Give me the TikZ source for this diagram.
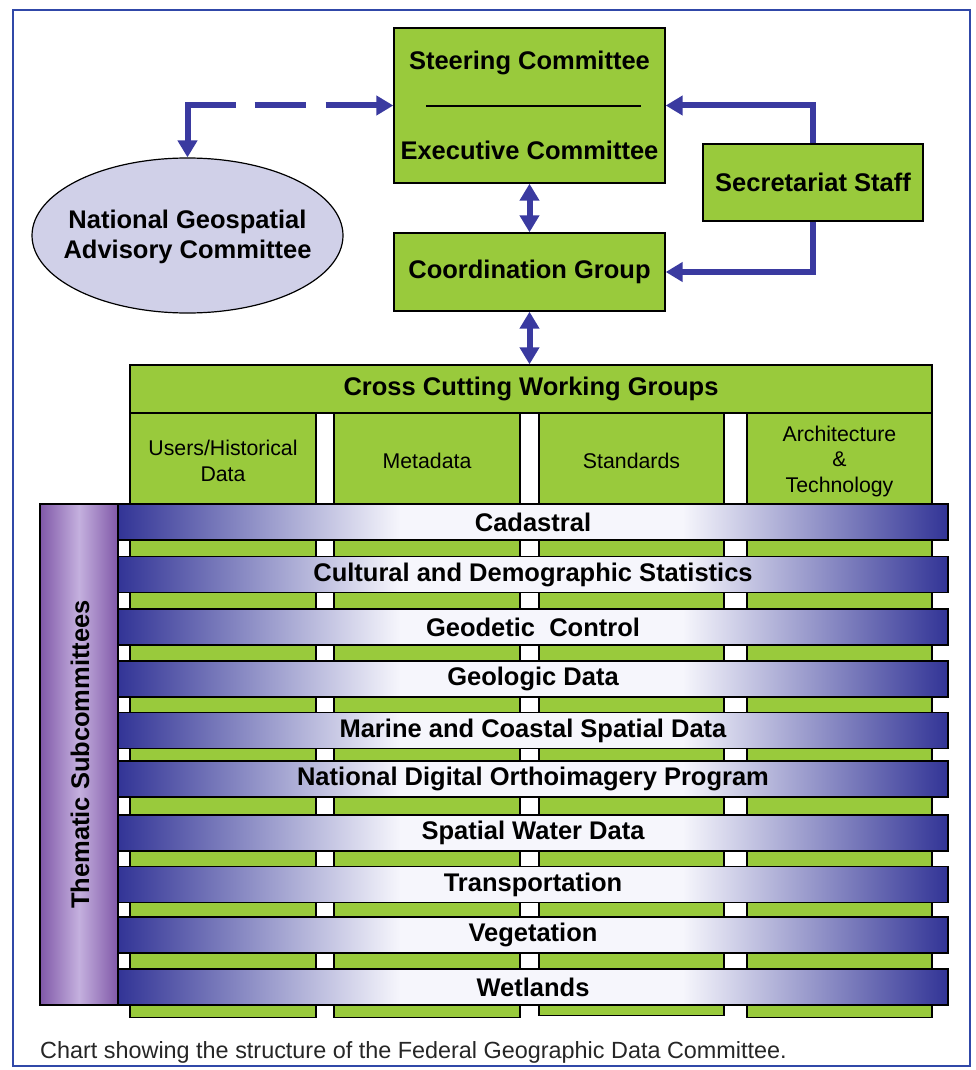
\documentclass[tikz,border=0pt]{standalone}
\usepackage{fontspec}
\setmainfont{Liberation Sans}
\usetikzlibrary{arrows.meta,shapes.geometric}
\definecolor{fgreen}{RGB}{153,202,60}
\definecolor{abl}{RGB}{58,58,160}
\definecolor{frameblue}{RGB}{48,72,168}
\definecolor{lav}{RGB}{208,208,232}
\definecolor{bardark}{RGB}{50,52,150}
\definecolor{barlight}{RGB}{246,246,252}
\definecolor{purp}{RGB}{128,88,168}
\definecolor{purpl}{RGB}{196,176,222}
\newcommand{\fgbold}{\fontsize{25.5}{30}\selectfont\bfseries}
\newcommand{\fgreg}{\fontsize{21.3}{25.5}\selectfont}
\newcommand{\fgcap}{\fontsize{23.4}{28}\selectfont}
\pgfdeclarehorizontalshading{barshade}{100bp}{color(0bp)=(bardark); color(25bp)=(bardark); color(42bp)=(barlight); color(59bp)=(barlight); color(75bp)=(bardark); color(100bp)=(bardark)}
\tikzset{
  gbox/.style={draw=black, line width=1.4pt, fill=fgreen, inner sep=0pt},
  colbox/.style={draw=black, line width=1.4pt, fill=fgreen, inner sep=0pt, anchor=north},
  bar/.style={draw=black, line width=1.2pt, shade, shading=barshade, minimum width=830pt, minimum height=36pt, inner sep=0pt, font=\fgbold},
  conn/.style={draw=abl, line width=6pt},
  txtb/.style={font=\fgbold, inner sep=0pt},
  txtr/.style={font=\fgreg, inner sep=0pt, align=center},
  >={Triangle[length=17pt,width=19pt]}
}
\begin{document}
\begin{tikzpicture}[x=1pt,y=-1pt]
\useasboundingbox (0,0) rectangle (975,1070);
\fill[white] (0,0) rectangle (975,1070);
\draw[frameblue, line width=2.5pt] (13,10) rectangle (970,1066);

% top boxes
\node[gbox, minimum width=271pt, minimum height=155pt] (steer) at (529.5,105.5) {};
\node[txtb] (steert) at (529.5,63) {Steering Committee};
\node[txtb] (exect) at (529.5,150) {Executive Committee};
\draw[line width=2pt] (426,106) -- (641,106);
\node[gbox, minimum width=271pt, minimum height=78pt, font=\fgbold] (coord) at (529.5,272) {Coordination Group};
\node[gbox, minimum width=220pt, minimum height=77pt, font=\fgbold] (sec) at (813,182.5) {Secretariat Staff};
\node[ellipse, draw=black, line width=1.2pt, fill=lav, minimum width=311pt, minimum height=155pt, inner sep=0pt] (ngac) at (187.5,235.5) {};
\node[txtb, align=center, font=\fontsize{25.5}{30.5}\selectfont\bfseries] (ngact) at (187.5,237) {National Geospatial\\Advisory Committee};

% cross cutting
\node[gbox, minimum width=802pt, minimum height=48pt, font=\fgbold] (cross) at (531,389) {Cross Cutting Working Groups};
\node[colbox, minimum width=186pt, minimum height=604pt] (col1) at (223,413) {};
\node[colbox, minimum width=186pt, minimum height=604pt] (col2) at (427,413) {};
\node[colbox, minimum width=185pt, minimum height=602pt] (col3) at (631.5,413) {};
\node[colbox, minimum width=185pt, minimum height=604pt] (col4) at (839.5,413) {};
\node[txtr] (c1t) at (223,461) {Users/Historical\\Data};
\node[txtr] (c2t) at (427,461) {Metadata};
\node[txtr] (c3t) at (631.5,461) {Standards};
\node[txtr] (c4t) at (839.5,461) {Architecture\\\&\\Technology};

% thematic
\node[draw=black, line width=1.2pt, left color=purp, right color=purp, middle color=purpl, minimum width=78pt, minimum height=501pt, inner sep=0pt] (them) at (79,754.5) {};
\node[txtb, rotate=90] (themt) at (80,754.5) {Thematic Subcommittees};

\node[bar] (b1) at (533,522) {Cadastral};
\node[bar] (b2) at (533,574.5) {Cultural and Demographic Statistics};
\node[bar] (b3) at (533,627) {Geodetic\ \ Control};
\node[bar] (b4) at (533,679) {Geologic Data};
\node[bar] (b5) at (533,730.5) {Marine and Coastal Spatial Data};
\node[bar] (b6) at (533,779) {National Digital Orthoimagery Program};
\node[bar] (b7) at (533,833) {Spatial Water Data};
\node[bar] (b8) at (533,884.5) {Transportation};
\node[bar] (b9) at (533,935) {Vegetation};
\node[bar] (b10) at (533,987) {Wetlands};

% connectors
\draw[conn, ->] (sec.north) |- (steer.east);
\draw[conn, ->] (sec.south) |- (coord.east);
\draw[conn, <->] (steer.south) -- (coord.north);
\draw[conn, <->] (coord.south) -- (coord.south |- cross.north);
\draw[conn, <->, dash pattern=on 84pt off 19pt on 51pt off 20pt on 120pt] (ngac.north) |- (steer.west);

% caption
\node[anchor=west, font=\fgcap, inner sep=0pt, text=black!85] (cap) at (40,1052) {Chart showing the structure of the Federal Geographic Data Committee.};
\end{tikzpicture}
\end{document}
